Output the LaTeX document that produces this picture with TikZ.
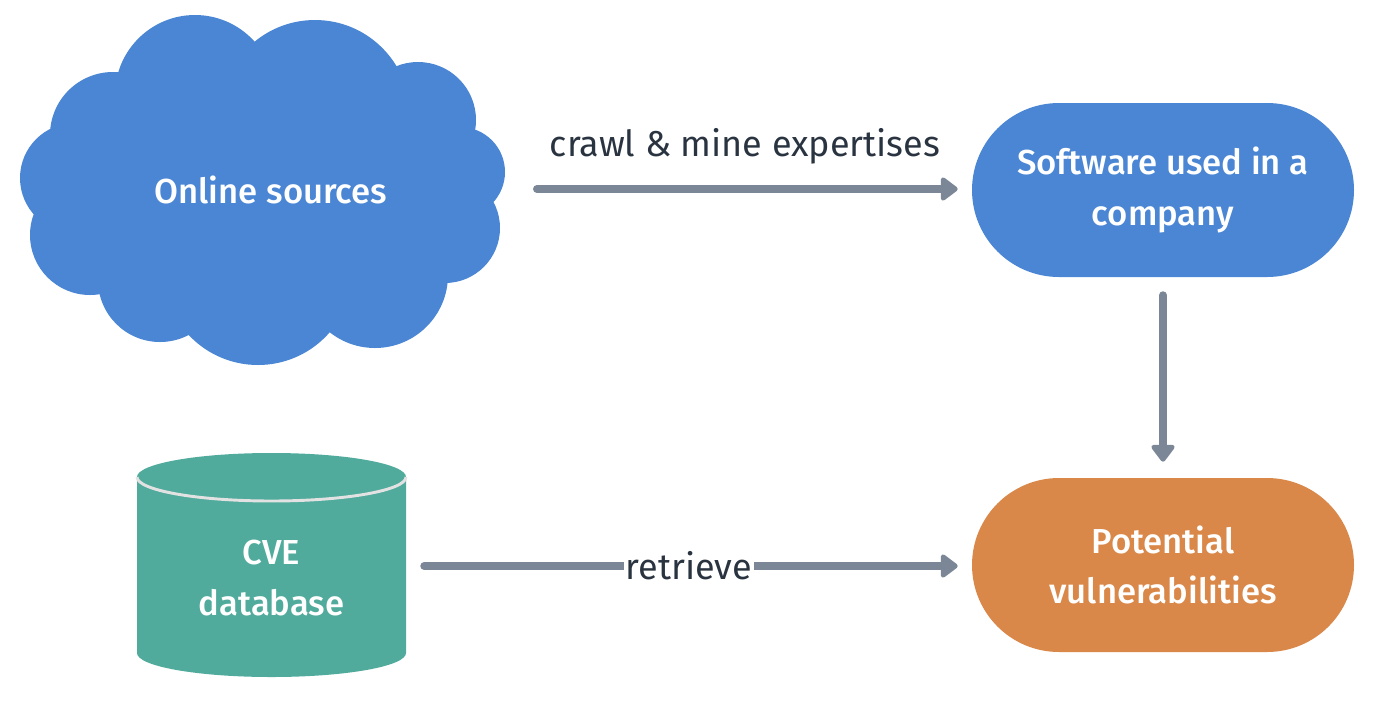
\documentclass[tikz,border=0pt]{standalone}
\usepackage{fontspec}
\setmainfont{Fira Sans Medium}
\newfontfamily\bookfont{Fira Sans}
\usetikzlibrary{arrows.meta}
\definecolor{cloudblue}{HTML}{4A86D4}
\definecolor{vulnorange}{HTML}{D9884A}
\definecolor{dbteal}{HTML}{50AB9D}
\definecolor{arrgrey}{HTML}{7B8797}
\definecolor{labeltext}{HTML}{2A3441}
\definecolor{seamgrey}{HTML}{E2E2E2}
\tikzset{
  pill/.style={rectangle, rounded corners=65.25pt, minimum width=286.5pt, minimum height=130.5pt, inner sep=0pt, align=center, text=white, font=\fontsize{26}{38}\selectfont},
  whitetext/.style={text=white, align=center, font=\fontsize{26}{38}\selectfont},
  arr/.style={draw=arrgrey, line width=6pt, line cap=round, -{Triangle[width=20pt,length=14pt,round]}},
  lbl/.style={text=labeltext, font=\bookfont\fontsize{27}{32}\selectfont},
}
\begin{document}
\begin{tikzpicture}[x=0.75pt,y=-0.75pt]
\useasboundingbox (0,0) rectangle (1386,701);
% cloud
\begin{scope}[fill=cloudblue]
  \fill (260,190) ellipse (200 and 120);
  \fill (113,135) circle (63);
  \fill (195,95) circle (80);
  \fill (315,115) circle (95);
  \fill (418,120) circle (58);
  \fill (460,172) circle (45);
  \fill (445,228) circle (55);
  \fill (375,275) circle (73);
  \fill (258,270) circle (95);
  \fill (160,280) circle (62);
  \fill (90,235) circle (60);
  \fill (75,178) circle (55);
\end{scope}
\node[whitetext] (cloud) at (271,190) {Online sources};
\coordinate (cloudout) at (537,189);
% cylinder
\fill[dbteal] (137,477) -- (137,653) arc[start angle=180, end angle=0, x radius=134.5, y radius=24] -- (406,477) arc[start angle=0, end angle=-180, x radius=134.5, y radius=24] -- cycle;
\draw[seamgrey, line width=2.2pt] (137,477) arc[start angle=180, end angle=0, x radius=134.5, y radius=24];
\node[minimum width=201.75pt, minimum height=132pt, inner sep=0pt] (cvebox) at (271.5,566) {};
\node[whitetext] (cve) at (271.5,578) {CVE\\database};
% pills
\node[pill, fill=cloudblue] (sw) at (1163,190) {Software used in a\\company};
\node[pill, fill=vulnorange] (pv) at (1163,565) {Potential\\vulnerabilities};
% arrows
\draw[arr, shorten >=10.5pt] (cloudout) -- (cloudout -| sw.west);
\node[lbl] (crawl) at (745,146) {crawl \& mine expertises};
\draw[arr, shorten <=13.5pt, shorten >=12pt] (sw.south) -- (pv.north);
\draw[arr, shorten <=13.5pt, shorten >=10.5pt] (cvebox.east) -- node[lbl, fill=white, inner sep=1.5pt] (retr) {retrieve} (cvebox.east -| pv.west);
\end{tikzpicture}
\end{document}
